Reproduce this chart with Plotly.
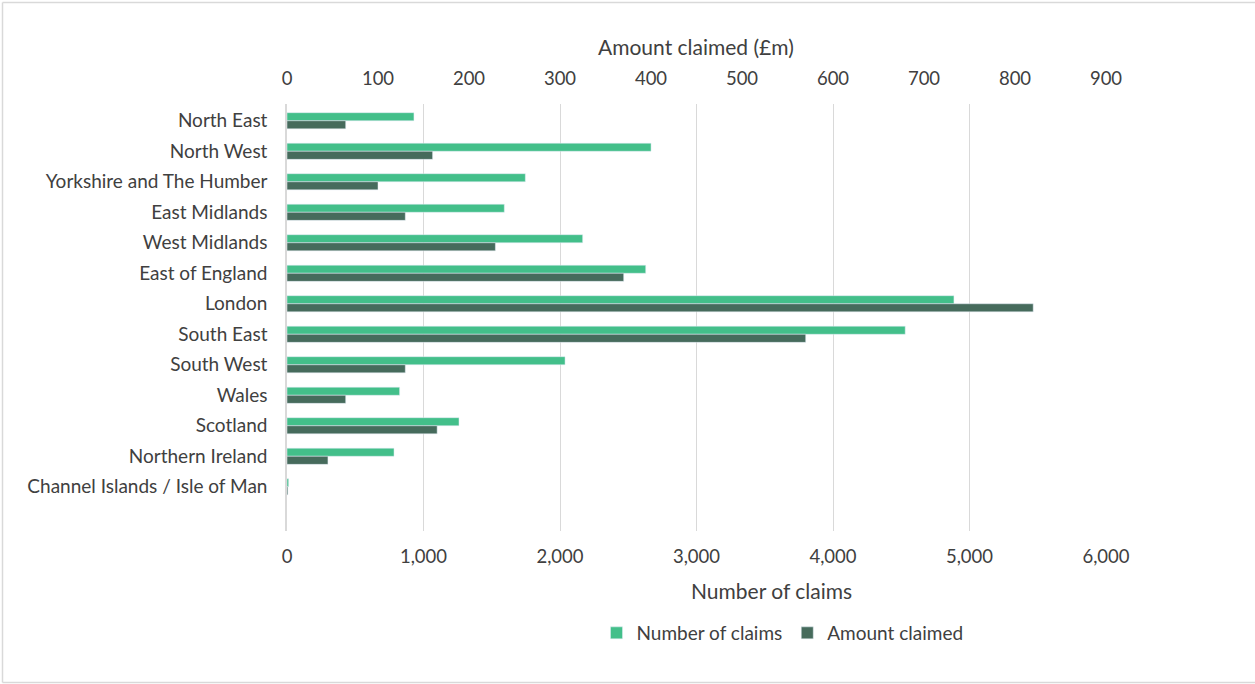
import plotly.graph_objects as go

regions = [
    "North East", "North West", "Yorkshire and The Humber", "East Midlands",
    "West Midlands", "East of England", "London", "South East", "South West",
    "Wales", "Scotland", "Northern Ireland", "Channel Islands / Isle of Man",
]
num_claims = [930, 2667, 1746, 1592, 2166, 2628, 4886, 4529, 2037, 825, 1260, 784, 12]
amount_gbp_m = [64.5, 160, 100, 130, 229, 370, 820, 570, 130, 64.5, 165, 45, 1]

claims_ticks = [0, 1000, 2000, 3000, 4000, 5000, 6000]
amount_ticks = [0, 100, 200, 300, 400, 500, 600, 700, 800, 900]

GREEN = "#43BF8A"
DARK = "#466B5C"
TEXT = "#404040"
GRID = "#D9D9D9"
FONT = "Lato"
FS = 18.5       # tick labels
FS_CAT = 19     # category labels and legend
FS_TITLE = 21   # axis titles

W, H = 1255, 684
L, R, T, B = 287, 149, 104, 153
pw, ph = W - L - R, H - T - B

bar_w = 0.265

fig = go.Figure()
fig.add_trace(go.Bar(
    name="Number of claims", y=regions, x=num_claims, orientation="h",
    marker=dict(color=GREEN), width=bar_w, offset=-bar_w, xaxis="x", yaxis="y",
))
fig.add_trace(go.Bar(
    name="Amount claimed", y=regions, x=amount_gbp_m, orientation="h",
    marker=dict(color=DARK), width=bar_w, offset=0, xaxis="x2", yaxis="y",
))

def px_to_paper_x(px):
    return (px - L) / pw

def px_to_paper_y(py):
    return (H - B - py) / ph

# light frame around the chart area
for x0, y0, x1, y1 in [(2.5, 2.5, 2.5, 682.5), (2.5, 2.5, 1260, 2.5), (2.5, 682.5, 1260, 682.5)]:
    fig.add_shape(type="line", xref="paper", yref="paper",
                  x0=px_to_paper_x(x0), y0=px_to_paper_y(y0),
                  x1=px_to_paper_x(x1), y1=px_to_paper_y(y1),
                  line=dict(color=GRID, width=1.5))

# axis titles
fig.add_annotation(text="Number of claims", xref="paper", yref="paper",
                   x=px_to_paper_x(771), y=px_to_paper_y(590),
                   xanchor="center", yanchor="middle", showarrow=False,
                   font=dict(size=FS_TITLE, color=TEXT))
fig.add_annotation(text="Amount claimed (£m)", xref="paper", yref="paper",
                   x=px_to_paper_x(696), y=px_to_paper_y(46),
                   xanchor="center", yanchor="middle", showarrow=False,
                   font=dict(size=FS_TITLE, color=TEXT))

fig.update_layout(
    width=W, height=H,
    margin=dict(l=L, r=R, t=T, b=B),
    paper_bgcolor="white", plot_bgcolor="white",
    font=dict(family=FONT, size=FS, color=TEXT),
    barmode="overlay",
    showlegend=True,
    legend=dict(orientation="h", x=0.605, xanchor="center", y=px_to_paper_y(633), yanchor="middle",
                font=dict(size=FS_CAT, color=TEXT), itemwidth=30, traceorder="normal"),
    xaxis=dict(
        range=[0, 6000], tickvals=claims_ticks, tickformat=",d",
        showgrid=True, gridcolor=GRID, gridwidth=1,
        zeroline=False, showline=False, ticks="",
        ticklabelstandoff=12,
        tickfont=dict(size=FS, color=TEXT),
    ),
    xaxis2=dict(
        range=[0, 900], tickvals=amount_ticks, overlaying="x", side="top",
        showgrid=False, zeroline=False, showline=False, ticks="",
        ticklabelstandoff=14,
        tickfont=dict(size=FS, color=TEXT),
    ),
    yaxis=dict(
        type="category", categoryorder="array", categoryarray=regions,
        range=[13.45, -0.55], showgrid=False, zeroline=False,
        showline=True, linecolor=GRID, linewidth=1.5,
        ticks="outside", ticklen=14, tickcolor="rgba(0,0,0,0)",
        tickfont=dict(size=FS_CAT, color=TEXT),
    ),
)

fig.write_html("out.html")
